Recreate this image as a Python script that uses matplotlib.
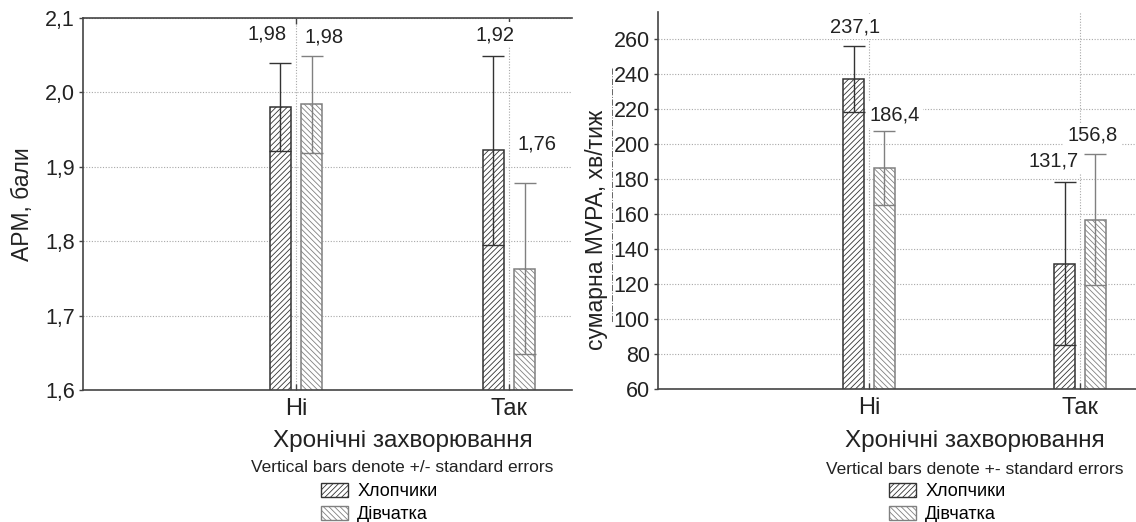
import matplotlib
matplotlib.use('Agg')
import matplotlib.pyplot as plt
from matplotlib.patches import Patch
from matplotlib.lines import Line2D

plt.rcParams['font.family'] = ['Liberation Sans', 'DejaVu Sans']
plt.rcParams['hatch.linewidth'] = 0.6

# data
categories = ['Ні', 'Так']
groups = ['Хлопчики', 'Дівчатка']

apm_boys = [1.980, 1.922]
apm_boys_se = [0.059, 0.127]
apm_girls = [1.984, 1.763]
apm_girls_se = [0.065, 0.115]
apm_ticks = [1.6, 1.7, 1.8, 1.9, 2.0, 2.1]

mvpa_boys = [237.1, 131.7]
mvpa_boys_se = [18.9, 46.5]
mvpa_girls = [186.4, 156.8]
mvpa_girls_se = [21.0, 37.4]
mvpa_ticks = [60, 80, 100, 120, 140, 160, 180, 200, 220, 240, 260]

# colours / styles
boy_col = '#333333'
girl_col = '#808080'
spine_col = '#444444'
grid_col = '#a8a8a8'
text_col = '#222222'

fig = plt.figure(figsize=(11.36, 5.22), dpi=100)
W, H = 1136, 522


def px_axes(left, top, right, bottom):
    ax = fig.add_axes([left / W, (H - bottom) / H, (right - left) / W, (bottom - top) / H])
    ax.px_box = (left, top, right, bottom)
    return ax


def fmt_tick(t):
    if isinstance(t, float):
        return ('%.1f' % t).replace('.', ',')
    return str(t)


def draw_panel(ax, boys, boys_se, girls, girls_se, ylim, yticks, decimals,
               ylabel, ylab_xy, note, offs_boys, offs_girls, xmax, top_spine,
               xlab_dy, note_dy, leg_xy):
    x = list(range(1, len(categories) + 1))
    off, w = 0.073, 0.10
    xb = [v - off for v in x]
    xg = [v + off for v in x]

    ax.bar(xb, boys, w, color='white', edgecolor=boy_col, hatch='//////', linewidth=1.1, zorder=2)
    ax.bar(xg, girls, w, color='white', edgecolor=girl_col, hatch='\\\\\\\\\\\\', linewidth=1.1, zorder=2)
    ax.errorbar(xb, boys, yerr=boys_se, fmt='none', ecolor=boy_col, elinewidth=1.0,
                capsize=7.8, capthick=1.0, zorder=3)
    ax.errorbar(xg, girls, yerr=girls_se, fmt='none', ecolor=girl_col, elinewidth=1.0,
                capsize=7.8, capthick=1.0, zorder=3)

    fmt = '{:.%df}' % decimals
    for xs, vals, ses, offs in [(xb, boys, boys_se, offs_boys), (xg, girls, girls_se, offs_girls)]:
        for xi, v, s, o in zip(xs, vals, ses, offs):
            ax.annotate(fmt.format(v).replace('.', ','), xy=(xi, v + s), xytext=o,
                        textcoords='offset pixels', ha='center', va='center', fontsize=14.5,
                        color=text_col, zorder=4,
                        bbox=dict(boxstyle='square,pad=0.15', fc='white', ec='none'))

    ax.set_xlim(0, xmax)
    ax.set_ylim(*ylim)
    ax.set_xticks(x, categories)
    ax.set_yticks(yticks, [fmt_tick(t) for t in yticks])
    ax.tick_params(axis='y', direction='out', length=3, width=1, color=spine_col,
                   labelsize=15.5, labelcolor=text_col, pad=3)
    ax.tick_params(axis='x', direction='in', length=4, width=1, color=spine_col,
                   labelsize=17, labelcolor=text_col, pad=6, top=top_spine)
    ax.grid(True, linestyle=(0, (1, 1.5)), color=grid_col, linewidth=0.8)
    ax.set_axisbelow(True)
    for side in ['left', 'bottom', 'top', 'right']:
        ax.spines[side].set_color(spine_col)
        ax.spines[side].set_linewidth(1.2)
    ax.spines['right'].set_visible(False)
    ax.spines['top'].set_visible(top_spine)

    # y label: pixel spot converted to axes fraction
    left, top, right, bottom = ax.px_box
    ax.set_ylabel(ylabel, fontsize=16.5, color=text_col)
    ax.yaxis.set_label_coords((ylab_xy[0] - left) / (right - left),
                              (bottom - ylab_xy[1]) / (bottom - top))

    ax.annotate('Хронічні захворювання', xy=(1.5, 0), xycoords=('data', 'axes fraction'),
                xytext=(0, xlab_dy), textcoords='offset pixels', ha='center', va='center',
                fontsize=17.5, color=text_col, annotation_clip=False)
    ax.annotate(note, xy=(1.5, 0), xycoords=('data', 'axes fraction'),
                xytext=(0, note_dy), textcoords='offset pixels', ha='center', va='center',
                fontsize=12.5, color=text_col, annotation_clip=False)

    handles = [Patch(facecolor='white', edgecolor=boy_col, hatch='//////', linewidth=1.0),
               Patch(facecolor='white', edgecolor=girl_col, hatch='\\\\\\\\\\\\', linewidth=1.0)]
    fig.legend(handles, groups, loc='upper left', bbox_to_anchor=(leg_xy[0] / W, (H - leg_xy[1]) / H),
               frameon=False, fontsize=13, handlelength=1.5, handleheight=0.85,
               handletextpad=0.5, labelspacing=0.3, borderpad=0, borderaxespad=0)


ax1 = px_axes(83, 18, 572, 390)
draw_panel(ax1, apm_boys, apm_boys_se, apm_girls, apm_girls_se, (1.6, 2.1), apm_ticks, 2,
           'APM, бали', (34, 204), 'Vertical bars denote +/- standard errors',
           [(-13, 29), (2, 21)], [(13, 19), (12, 39)],
           (572 - 83) / 213, True, -51, -77, (321, 483))

ax2 = px_axes(658, 12, 1136, 389)
draw_panel(ax2, mvpa_boys, mvpa_boys_se, mvpa_girls, mvpa_girls_se, (60, 275.4), mvpa_ticks, 1,
           'сумарна MVPA, хв/тиж', (608, 230), 'Vertical bars denote +- standard errors',
           [(1, 19), (-11, 21)], [(10, 16), (-3, 19)],
           (1136 - 658) / 211, False, -52, -80, (889, 483))

# dashed guide line next to the right y label (present in the source scan)
fig.add_artist(Line2D([612 / W, 612 / W], [(H - 68) / H, (H - 322) / H], transform=fig.transFigure,
                      color='#666666', linestyle='-.', linewidth=0.7))

fig.savefig('out.png', dpi=100)
